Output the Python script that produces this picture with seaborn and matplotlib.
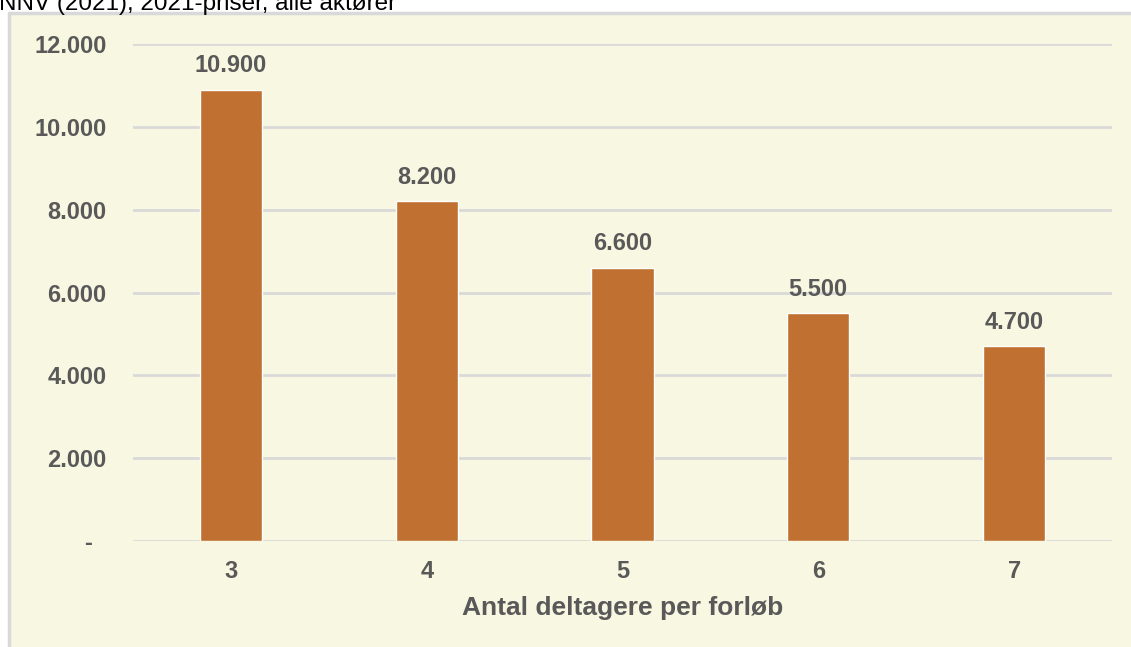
import matplotlib
matplotlib.use("Agg")
import matplotlib.pyplot as plt
import seaborn as sns
import pandas as pd
from matplotlib.patches import Rectangle
from matplotlib.lines import Line2D

# data
deltagere = ["3", "4", "5", "6", "7"]
vaerdi = [10900, 8200, 6600, 5500, 4700]
yticks = [0, 2000, 4000, 6000, 8000, 10000, 12000]

bg = "#F8F7E1"
bar_col = "#C07030"
txt = "#595959"
grid = "#D9D9D9"

sns.set_style("white")
plt.rcParams["font.family"] = ["Liberation Sans", "DejaVu Sans"]

def fmt(v):
    if v == 0:
        return "-  "
    return f"{v:,.0f}".replace(",", ".")

df = pd.DataFrame({"deltagere": deltagere, "vaerdi": vaerdi})

fig = plt.figure(figsize=(11.31, 6.47), dpi=100)
fig.patch.set_facecolor("white")

# beige panel with grey border left/top
W, H = 1131, 647
fig.patches.append(Rectangle((9 / W, 0), 1, 1 - 13 / H, transform=fig.transFigure,
                             facecolor=bg, edgecolor="none", zorder=-10))
fig.lines.append(Line2D([9 / W, 9 / W], [0, 1 - 13 / H], transform=fig.transFigure,
                        color=grid, lw=2.5, zorder=-9))
fig.lines.append(Line2D([9 / W, 1], [1 - 13 / H, 1 - 13 / H], transform=fig.transFigure,
                        color=grid, lw=2.5, zorder=-9))

# cut-off subtitle at top
fig.text(-0.001, 1 - 10 / H, "NNV (2021), 2021-priser, alle aktører", fontsize=17.5,
         color="black", ha="left", va="baseline")

ax = fig.add_axes([133 / W, 1 - 541 / H, (1112 - 133) / W, (541 - 44) / H])
ax.set_facecolor("none")

sns.barplot(data=df, x="deltagere", y="vaerdi", color=bar_col, saturation=1,
            width=0.317, ax=ax, zorder=3)

ax.set_ylim(0, 12000)
ax.set_yticks(yticks)
ax.set_yticklabels([fmt(v) for v in yticks])
ax.yaxis.grid(True, color=grid, lw=2, zorder=0)
ax.set_axisbelow(True)
for s in ax.spines.values():
    s.set_visible(False)

ax.tick_params(axis="y", length=0, pad=19, labelsize=17, labelcolor=txt)
ax.tick_params(axis="x", length=0, pad=14, labelsize=17, labelcolor=txt)
for lab in ax.get_xticklabels() + ax.get_yticklabels():
    lab.set_fontweight("bold")

ax.set_ylabel("")
ax.set_xlabel("Antal deltagere per forløb", fontsize=19, fontweight="bold",
              color=txt, labelpad=9)

for p, v in zip(ax.patches, vaerdi):
    ax.annotate(fmt(v), (p.get_x() + p.get_width() / 2, p.get_height()),
                xytext=(0, 9), textcoords="offset points", ha="center", va="bottom",
                fontsize=17, fontweight="bold", color=txt)

fig.savefig("out.png", dpi=100, facecolor=fig.get_facecolor())
